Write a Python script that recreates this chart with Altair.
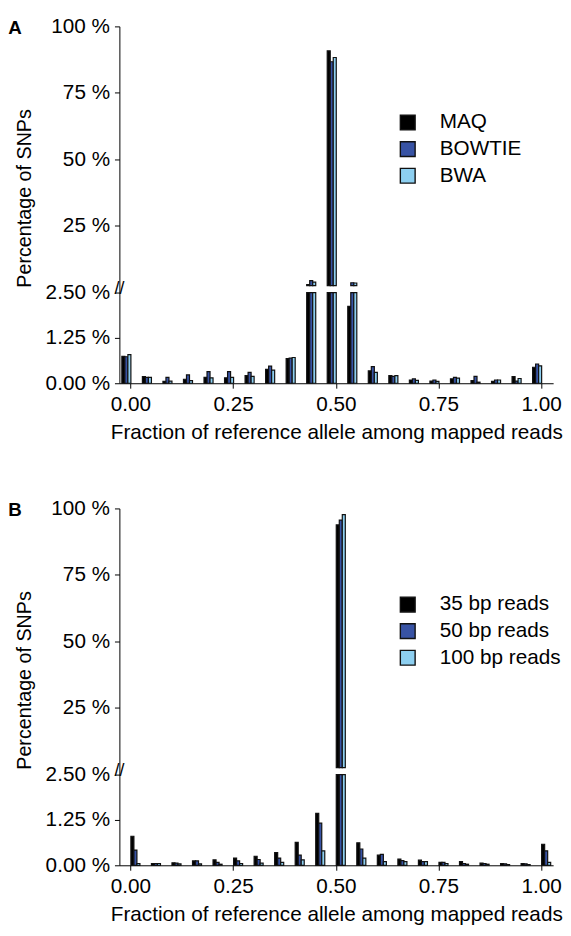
import altair as alt
import pandas as pd

bins = [0.0, 0.05, 0.1, 0.15, 0.2, 0.25, 0.3, 0.35, 0.4, 0.45, 0.5,
        0.55, 0.6, 0.65, 0.7, 0.75, 0.8, 0.85, 0.9, 0.95, 1.0]

a_series = ["MAQ", "BOWTIE", "BWA"]
a_maq = [0.74, 0.18, 0.05, 0.11, 0.16, 0.15, 0.21, 0.38, 0.68, 2.9, 90.8,
         2.12, 0.34, 0.21, 0.09, 0.06, 0.12, 0.07, 0.05, 0.18, 0.44]
a_bowtie = [0.73, 0.16, 0.16, 0.23, 0.32, 0.32, 0.30, 0.47, 0.69, 4.4, 86.7,
            3.6, 0.46, 0.19, 0.12, 0.09, 0.16, 0.19, 0.09, 0.06, 0.53]
a_bwa = [0.79, 0.16, 0.06, 0.07, 0.15, 0.16, 0.19, 0.36, 0.71, 3.8, 88.3,
         3.5, 0.30, 0.21, 0.08, 0.05, 0.14, 0.03, 0.09, 0.13, 0.48]

b_series = ["35 bp reads", "50 bp reads", "100 bp reads"]
b_35 = [0.80, 0.05, 0.07, 0.12, 0.15, 0.20, 0.25, 0.35, 0.63, 1.43, 93.8,
        0.62, 0.28, 0.17, 0.14, 0.08, 0.10, 0.06, 0.05, 0.05, 0.58]
b_50 = [0.42, 0.05, 0.06, 0.12, 0.08, 0.12, 0.16, 0.20, 0.28, 1.16, 95.6,
        0.45, 0.30, 0.13, 0.10, 0.08, 0.05, 0.05, 0.04, 0.04, 0.40]
b_100 = [0.05, 0.05, 0.04, 0.04, 0.03, 0.05, 0.06, 0.08, 0.15, 0.40, 97.7,
         0.20, 0.10, 0.10, 0.10, 0.05, 0.03, 0.03, 0.02, 0.02, 0.08]

colors = ["#000000", "#3853a4", "#8dcff0"]
x_ticks = [0.0, 0.25, 0.5, 0.75, 1.0]
y_ticks = [0.0, 1.25, 2.5, 25, 50, 75, 100]
y_domain = [0, 2.5, 2.500001, 100]

FONT = "Liberation Sans"
FS = 21
W = 440
H = 362
LOW_H = 92
GAP = 7


def panel(letter, names, series_vals):
    rows = []
    for name, vals in zip(names, series_vals):
        for b, v in zip(bins, vals):
            rows.append({"bin": b, "series": name, "pct": v})
    df = pd.DataFrame(rows)

    yscale = alt.Scale(domain=y_domain, range=[H, H - LOW_H, H - LOW_H - GAP, 0])
    x = alt.X("bin:O", scale=alt.Scale(domain=bins, paddingInner=0.12, paddingOuter=0.12),
              axis=alt.Axis(values=x_ticks, labelExpr="format(datum.value, '.2f')",
                            labelAngle=0, tickSize=5, labelPadding=6,
                            title="Fraction of reference allele among mapped reads",
                            titlePadding=7))
    xo = alt.XOffset("series:N", sort=names,
                     scale=alt.Scale(domain=names, paddingInner=0, paddingOuter=0))
    color = alt.Color("series:N", sort=names,
                      scale=alt.Scale(domain=names, range=colors),
                      legend=alt.Legend(orient="none", legendX=282, legendY=87, title=None,
                                        symbolType="square", symbolSize=225,
                                        symbolStrokeColor="#111111", symbolStrokeWidth=1.4,
                                        labelFontSize=FS, labelFont=FONT, labelOffset=22,
                                        rowPadding=5, labelColor="black"))
    base = alt.Chart(df).transform_calculate(
        low_top="min(datum.pct, 2.5)", up_base="2.500001")
    yaxis = alt.Axis(values=y_ticks,
                     labelExpr="datum.value <= 2.5 ? format(datum.value, '.2f') + ' %' : datum.value + ' %'",
                     tickSize=5, labelPadding=5, title="Percentage of SNPs",
                     titleFontSize=20, titlePadding=11, titleY=174)
    bar_style = dict(stroke="#111111", strokeWidth=1.2)
    low = base.mark_bar(**bar_style).encode(
        x=x, xOffset=xo,
        y=alt.Y("low_top:Q", scale=yscale, axis=yaxis),
        color=color)
    up = base.transform_filter("datum.pct > 2.5").mark_bar(**bar_style).encode(
        x=x, xOffset=xo,
        y=alt.Y("pct:Q", scale=yscale, axis=yaxis),
        y2="up_base:Q",
        color=color)
    brk = alt.Chart(pd.DataFrame({"t": ["//"]})).mark_text(
        fontSize=18, font=FONT, align="center", baseline="middle").encode(
        text="t:N", x=alt.value(0), y=alt.value(H - LOW_H - GAP / 2))
    lab = alt.Chart(pd.DataFrame({"t": [letter]})).mark_text(
        fontSize=19, font=FONT, fontWeight="bold", align="center", baseline="middle").encode(
        text="t:N", x=alt.value(-106), y=alt.value(2))
    return alt.layer(low, up, brk, lab).properties(width=W, height=H)


pa = panel("A", a_series, [a_maq, a_bowtie, a_bwa])
pb = panel("B", b_series, [b_35, b_50, b_100])

chart = alt.vconcat(pa, pb, spacing=56).resolve_scale(color="independent").properties(
    padding={"left": 0, "top": 1, "right": 0, "bottom": 0}
).configure(font=FONT).configure_view(stroke=None).configure_axis(
    grid=False, domainColor="black", tickColor="black", labelColor="black",
    titleColor="black", labelFontSize=FS, titleFontSize=FS, titleFontWeight="normal",
    labelFont=FONT, titleFont=FONT, domainWidth=1, tickWidth=1)

chart.save("out.html", embed_options={"renderer": "svg", "actions": False})
